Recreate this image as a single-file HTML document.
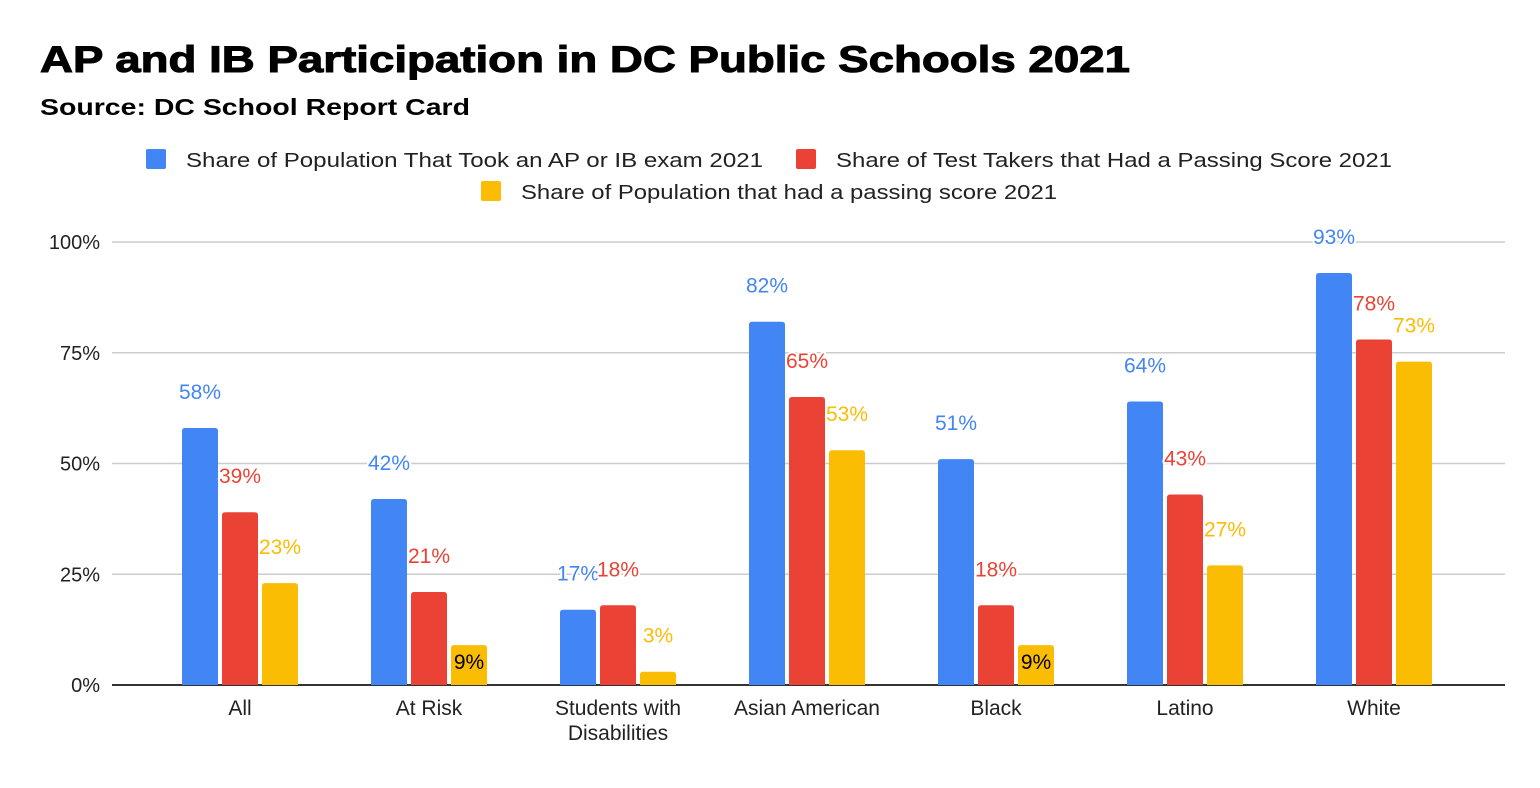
<!DOCTYPE html>
<html><head><meta charset="utf-8"><style>
body{margin:0;background:#fff;width:1540px;height:783px;overflow:hidden;font-family:"Liberation Sans",Arial,sans-serif}
</style></head><body>
<svg width="1540" height="783">
<text x="40" y="72" font-size="37" font-weight="900" fill="#000" textLength="1090" lengthAdjust="spacingAndGlyphs" stroke="#000" stroke-width="1">AP and IB Participation in DC Public Schools 2021</text>
<text x="40" y="115" font-size="23" font-weight="bold" fill="#000" textLength="430" lengthAdjust="spacingAndGlyphs">Source:  DC School Report Card</text>
<g font-size="20" fill="#222">
<g><rect x="146" y="149" width="20" height="20" rx="2" fill="#4285f4"/><text x="186" y="167" textLength="577" lengthAdjust="spacingAndGlyphs">Share of Population That Took an AP or IB exam 2021</text></g>
<g><rect x="796" y="149" width="20" height="20" rx="2" fill="#ea4335"/><text x="836" y="167" textLength="556" lengthAdjust="spacingAndGlyphs">Share of Test Takers that Had a Passing Score 2021</text></g>
<g><rect x="481" y="181" width="20" height="20" rx="2" fill="#fbbc04"/><text x="521" y="199" textLength="536" lengthAdjust="spacingAndGlyphs">Share of Population that had a passing score 2021</text></g>
</g>
<g id="grid"></g><g id="bars"></g><g id="labels"></g>
</svg>
<script>
const categories=["All","At Risk","Students with|Disabilities","Asian American","Black","Latino","White"];
const tookExam=[58,42,17,82,51,64,93];
const passTakers=[39,21,18,65,18,43,78];
const passPop=[23,9,3,53,9,27,73];
const yTicks=[0,25,50,75,100];
const tickLabels=["0%","25%","50%","75%","100%"];
const NS="http://www.w3.org/2000/svg";
const y0=685,yTop=242,xL=112,xR=1505;
const yS=v=>y0-(y0-yTop)*v/100;
const groupW=189;
const xC=i=>240+groupW*i;
function mk(t,a,p){const e=document.createElementNS(NS,t);for(const k in a)e.setAttribute(k,a[k]);p.appendChild(e);return e;}
const grid=document.getElementById('grid'),bars=document.getElementById('bars'),labels=document.getElementById('labels');
yTicks.forEach((t,i)=>{
 if(t>0){const l=mk('line',{x1:xL,x2:xR,y1:yS(t),y2:yS(t),stroke:'#ccc','stroke-width':1.5},grid);
 
 }
 const tx=mk('text',{x:100,y:yS(t)+7,'text-anchor':'end','font-size':20,fill:'#222'},grid);tx.textContent=tickLabels[i];
 
 
});
const ax=mk('line',{x1:xL,x2:xR,y1:y0,y2:y0,stroke:'#333','stroke-width':2},grid);


const series=[[tookExam,'#4285f4','took'],[passTakers,'#ea4335','passtakers'],[passPop,'#fbbc04','passpop']];
categories.forEach((c,i)=>{
 const lines=c.split('|');
 lines.forEach((ln,j)=>{const t=mk('text',{x:xC(i),y:715+j*25,'text-anchor':'middle','font-size':21,fill:'#222'},labels);t.textContent=ln;
 
 });
 series.forEach((s,k)=>{
  const v=s[0][i];const bx=xC(i)-58+k*40;const top=yS(v);
  const r=mk('path',{d:`M${bx},${y0} V${top+3} Q${bx},${top} ${bx+3},${top} H${bx+33} Q${bx+36},${top} ${bx+36},${top+3} V${y0} Z`,fill:s[1]},bars);
  
  
  const inside=(k===2&&v>=5&&v<15);
  const t=mk('text',{x:bx+18,y:inside?top+24:top-29,'text-anchor':'middle','font-size':21,fill:inside?'#000':s[1],stroke:inside?'none':'#fff','stroke-width':4,'paint-order':'stroke','stroke-linejoin':'round'},labels);
  t.textContent=Math.round(v)+'%';
  
  
 });
});
</script>
</body></html>
